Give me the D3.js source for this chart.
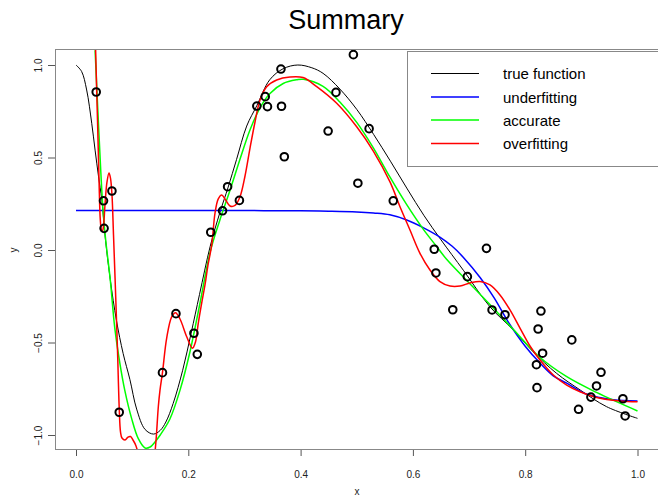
<!DOCTYPE html>
<html>
<head>
<meta charset="utf-8">
<script src="https://cdn.jsdelivr.net/npm/d3@7"></script>
<style>
  html, body { margin: 0; padding: 0; background: #fff; }
  svg { display: block; font-family: "Liberation Sans", Arial, Helvetica, sans-serif; }
</style>
</head>
<body>
<svg id="chart" width="658" height="497"></svg>
<script>
// Noisy samples of the target function
const sampleX = [0.036, 0.049, 0.050, 0.064, 0.077, 0.154, 0.178, 0.210, 0.216, 0.240,
  0.261, 0.270, 0.291, 0.322, 0.337, 0.341, 0.365, 0.366, 0.371, 0.449,
  0.463, 0.494, 0.502, 0.522, 0.565, 0.638, 0.641, 0.671, 0.697, 0.731,
  0.741, 0.764, 0.828, 0.823, 0.831, 0.820, 0.821, 0.883, 0.935, 0.927,
  0.917, 0.895, 0.974, 0.978];
const sampleY = [0.854, 0.266, 0.117, 0.319, -0.877, -0.663, -0.344, -0.450, -0.564, 0.096,
  0.212, 0.342, 0.268, 0.778, 0.829, 0.775, 0.978, 0.777, 0.504, 0.643,
  0.852, 1.056, 0.361, 0.656, 0.266, 0.004, -0.124, -0.323, -0.144, 0.009,
  -0.324, -0.350, -0.330, -0.427, -0.558, -0.620, -0.744, -0.486, -0.661, -0.735,
  -0.795, -0.861, -0.804, -0.897];

// True function
const trueX = [0, 0.010, 0.019, 0.028, 0.034, 0.040, 0.046, 0.052, 0.061, 0.072, 0.084, 0.096,
  0.108, 0.123, 0.138, 0.150, 0.160, 0.173, 0.190, 0.205, 0.220, 0.239, 0.256, 0.271, 0.286,
  0.304, 0.322, 0.345, 0.369, 0.395, 0.420, 0.440, 0.470, 0.500, 0.530, 0.560, 0.590, 0.620,
  0.650, 0.690, 0.737, 0.778, 0.814, 0.856, 0.898, 0.945, 1.0];
const trueY = [1.0, 0.965, 0.865, 0.685, 0.54, 0.40, 0.27, 0.07, -0.16, -0.38, -0.56, -0.70,
  -0.86, -0.97, -0.995, -0.975, -0.93, -0.83, -0.65, -0.45, -0.24, 0.02, 0.20, 0.34, 0.49,
  0.67, 0.78, 0.92, 0.98, 1.0, 0.985, 0.955, 0.87, 0.76, 0.625, 0.48, 0.33, 0.185,
  0.055, -0.11, -0.306, -0.43, -0.55, -0.667, -0.757, -0.847, -0.91];

// Underfitting model
const underX = [0, 0.1, 0.2, 0.3, 0.4, 0.45, 0.5, 0.53, 0.559, 0.589, 0.619, 0.648, 0.67, 0.69,
  0.72, 0.745, 0.77, 0.80, 0.826, 0.85, 0.874, 0.91, 0.957, 1.0];
const underY = [0.213, 0.213, 0.213, 0.213, 0.212, 0.21, 0.206, 0.2, 0.19, 0.162, 0.12, 0.07,
  0.02, -0.04, -0.15, -0.26, -0.39, -0.52, -0.61, -0.68, -0.72, -0.78, -0.81, -0.816];

// Accurate model
const accX = [0.034, 0.041, 0.048, 0.053, 0.061, 0.069, 0.078, 0.087, 0.099, 0.111, 0.123, 0.132,
  0.140, 0.150, 0.167, 0.185, 0.203, 0.220, 0.239, 0.256, 0.274, 0.292, 0.310, 0.328, 0.345,
  0.369, 0.393, 0.405, 0.440, 0.470, 0.500, 0.529, 0.559, 0.589, 0.619, 0.642, 0.660, 0.720,
  0.779, 0.826, 0.874, 0.927, 1.0];
const accY = [1.08, 0.62, 0.22, 0.05, -0.16, -0.42, -0.61, -0.76, -0.91, -1.02, -1.07, -1.065,
  -1.04, -1.0, -0.915, -0.76, -0.55, -0.30, -0.01, 0.16, 0.32, 0.49, 0.65, 0.77, 0.845,
  0.90, 0.92, 0.923, 0.885, 0.80, 0.69, 0.555, 0.395, 0.245, 0.11, 0.02, -0.05, -0.24,
  -0.43, -0.58, -0.685, -0.77, -0.87];

// Overfitting model
const overX = [0.0344, 0.0347, 0.0383, 0.041, 0.0433, 0.0454, 0.0472, 0.049, 0.0516, 0.0552,
  0.0588, 0.0614, 0.0641, 0.0668, 0.0703, 0.0739, 0.0771, 0.0793, 0.0819, 0.0873, 0.0926,
  0.0971, 0.1015, 0.1069, 0.1104, 0.1140, 0.1193, 0.1264, 0.1336, 0.1389, 0.1425, 0.1466,
  0.1496, 0.154, 0.1615, 0.1704, 0.1772, 0.1852, 0.1972, 0.2075, 0.2128, 0.2178, 0.2239,
  0.2297, 0.2351, 0.2417, 0.2476, 0.2534, 0.2595, 0.2654, 0.2743, 0.2832, 0.2921, 0.301,
  0.3099, 0.3188, 0.3277, 0.3396, 0.3574, 0.3811, 0.4043, 0.4287, 0.4643, 0.4999, 0.5295,
  0.5592, 0.577, 0.5948, 0.6126, 0.6304, 0.6482, 0.6661, 0.6839, 0.7017, 0.7195, 0.7373,
  0.7551, 0.7729, 0.7907, 0.8085, 0.8264, 0.85, 0.8739, 0.8976, 0.9273, 0.9688, 1.0];
const overY = [1.2, 1.108, 0.703, 0.378, 0.162, 0.108, 0.103, 0.13, 0.243, 0.368,
  0.416, 0.389, 0.297, 0.081, -0.216, -0.541, -0.865, -0.984, -1.016, -1.027, -1.011,
  -1.008, -1.027, -1.059, -1.10, -1.16, -1.21, -1.24, -1.22, -1.14, -1.03, -0.847,
  -0.757, -0.663, -0.476, -0.362, -0.339, -0.373, -0.469, -0.531, -0.497, -0.395, -0.286,
  -0.189, -0.081, 0.027, 0.2, 0.276, 0.297, 0.276, 0.238, 0.241, 0.288, 0.4,
  0.551, 0.692, 0.811, 0.883, 0.919, 0.935, 0.932, 0.883, 0.793, 0.666, 0.535,
  0.368, 0.234, 0.108, -0.018, -0.108, -0.171, -0.195, -0.195, -0.178, -0.170, -0.189,
  -0.243, -0.324, -0.422, -0.519, -0.595, -0.676, -0.73, -0.766, -0.797, -0.816, -0.82];

const xTicks = [0, 0.2, 0.4, 0.6, 0.8, 1.0];
const yTicks = [-1.0, -0.5, 0.0, 0.5, 1.0];
const seriesNames = ["true function", "underfitting", "accurate", "overfitting"];
const seriesColors = ["#000000", "#0000ff", "#00ff00", "#ff0000"];

const svg = d3.select("#chart");
const box = { left: 55, top: 49, right: 662, bottom: 449 };

const x = d3.scaleLinear().domain([0, 1]).range([76, 637.5]);
const y = d3.scaleLinear().domain([0, 1]).range([250, 65]);

// title
svg.append("text")
  .attr("x", 346).attr("y", 29)
  .attr("text-anchor", "middle")
  .attr("font-size", 27)
  .attr("fill", "#000")
  .text("Summary");

svg.append("defs").append("clipPath").attr("id", "plotclip")
  .append("rect")
  .attr("x", box.left).attr("y", box.top)
  .attr("width", box.right - box.left).attr("height", box.bottom - box.top);

// x axis
const xAxis = svg.append("g")
  .attr("transform", `translate(0,${box.bottom})`)
  .call(d3.axisBottom(x).tickValues(xTicks).tickSize(7).tickPadding(15)
    .tickFormat(d3.format(".1f")));
xAxis.select(".domain").remove();
xAxis.selectAll("line").attr("stroke", "#555");
xAxis.selectAll("text").attr("font-size", 10).attr("fill", "#222")
  .attr("font-family", "Liberation Sans, Arial, sans-serif");

// y axis
const yAxis = svg.append("g")
  .attr("transform", `translate(${box.left},0)`)
  .call(d3.axisLeft(y).tickValues(yTicks).tickSize(7)
    .tickFormat(d3.format(".1f")));
yAxis.select(".domain").remove();
yAxis.selectAll("line").attr("stroke", "#555");
yAxis.selectAll("text").attr("font-size", 10).attr("fill", "#222")
  .attr("font-family", "Liberation Sans, Arial, sans-serif")
  .attr("text-anchor", "middle")
  .attr("dy", 0)
  .attr("x", 0)
  .attr("transform", `translate(-17,0) rotate(-90)`)
  .attr("dominant-baseline", "central");

// axis titles
svg.append("text").attr("x", 357).attr("y", 495)
  .attr("text-anchor", "middle").attr("font-size", 10).attr("fill", "#222").text("x");
svg.append("text")
  .attr("transform", `translate(13,250) rotate(-90)`)
  .attr("text-anchor", "middle").attr("dominant-baseline", "central")
  .attr("font-size", 10).attr("fill", "#222").text("y");

// curves
const plot = svg.append("g").attr("clip-path", "url(#plotclip)");
const line = d3.line().x(d => x(d[0])).y(d => y(d[1])).curve(d3.curveCatmullRom.alpha(0.5));

const curves = [
  { xs: trueX, ys: trueY, color: seriesColors[0], w: 1 },
  { xs: underX, ys: underY, color: seriesColors[1], w: 1.5 },
  { xs: accX, ys: accY, color: seriesColors[2], w: 1.5 },
  { xs: overX, ys: overY, color: seriesColors[3], w: 1.5 }
];
curves.forEach(c => {
  plot.append("path")
    .datum(d3.zip(c.xs, c.ys))
    .attr("d", line)
    .attr("fill", "none")
    .attr("stroke", c.color)
    .attr("stroke-width", c.w);
});

// sample points
plot.selectAll("circle.pt")
  .data(d3.zip(sampleX, sampleY))
  .join("circle")
  .attr("class", "pt")
  .attr("cx", d => x(d[0]))
  .attr("cy", d => y(d[1]))
  .attr("r", 3.8)
  .attr("fill", "none")
  .attr("stroke", "#000")
  .attr("stroke-width", 2);

// plot frame
svg.append("rect")
  .attr("x", box.left + 0.5).attr("y", box.top + 0.5)
  .attr("width", box.right - box.left).attr("height", box.bottom - box.top)
  .attr("fill", "none").attr("stroke", "#888").attr("stroke-width", 1);

// legend
const lg = svg.append("g");
lg.append("rect")
  .attr("x", 407.5).attr("y", 51.5).attr("width", 260).attr("height", 115)
  .attr("fill", "#fff").attr("stroke", "#888").attr("stroke-width", 1);
const rowY = [73.5, 97, 120, 143.5];
seriesNames.forEach((name, i) => {
  lg.append("line")
    .attr("x1", 431).attr("x2", 479)
    .attr("y1", rowY[i]).attr("y2", rowY[i])
    .attr("stroke", seriesColors[i])
    .attr("stroke-width", i === 0 ? 1 : 1.5);
  lg.append("text")
    .attr("x", 503).attr("y", rowY[i])
    .attr("dominant-baseline", "central")
    .attr("font-size", 15).attr("fill", "#000")
    .text(name);
});
</script>
</body>
</html>
